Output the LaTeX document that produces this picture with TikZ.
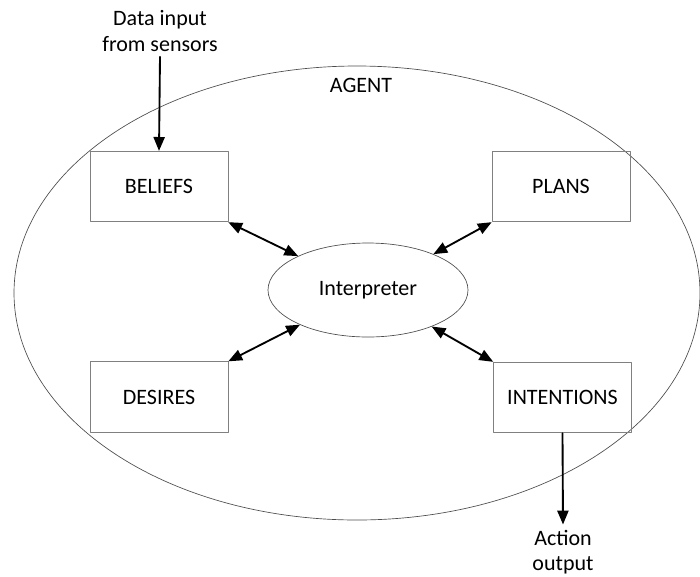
\documentclass[tikz,border=0pt]{standalone}
\usepackage{fontspec}
\setmainfont{Carlito}
\usepackage{tikz}
\usetikzlibrary{arrows,shapes.geometric}
\definecolor{boxgray}{rgb}{0.5,0.5,0.5}
\definecolor{linegray}{rgb}{0.3,0.3,0.3}
\tikzset{
  part/.style={draw=boxgray,line width=0.6pt,minimum width=103.5pt,minimum height=53pt,inner sep=0pt},
  interp/.style={ellipse,draw=linegray,line width=0.5pt,minimum width=150pt,minimum height=70.5pt,inner sep=0pt},
  label/.style={align=center,inner sep=0pt},
  link/.style={<->,line width=1.4pt},
  flow/.style={->,line width=1.4pt}
}

\begin{document}
\begin{tikzpicture}[line cap=round,line join=round,>=triangle 45,x=0.75pt,y=-0.75pt,font=\fontsize{16.5}{19}\selectfont]

\useasboundingbox (0,0) rectangle (700,576);
\draw [color=linegray,line width=0.5pt] (357,293) ellipse (343 and 227);
\node[label] (agent) at (361,85) {AGENT};

\node[part] (beliefs) at (159,186.5) {BELIEFS};
\node[part] (plans) at (561,186.5) {PLANS};
\node[part] (desires) at (159,397) {DESIRES};
\node[part] (intentions) at (562.5,397.5) {INTENTIONS};
\node[interp] (interpreter) at (368,290) {Interpreter};

\node[label] (sensors) at (160,31) {Data input\\from sensors};
\node[label] (action) at (563,552) {Action\\output};

\draw [link] (beliefs.south east) -- (interpreter);
\draw [link] (plans.south west) -- (interpreter);
\draw [link] (desires.north east) -- (interpreter);
\draw [link] (intentions.north west) -- (interpreter);

\draw [flow] ([yshift=-4pt]sensors.south) -- (beliefs.north);
\draw [flow] (intentions.south) -- ([yshift=4pt]action.north);

\end{tikzpicture}
\end{document}
